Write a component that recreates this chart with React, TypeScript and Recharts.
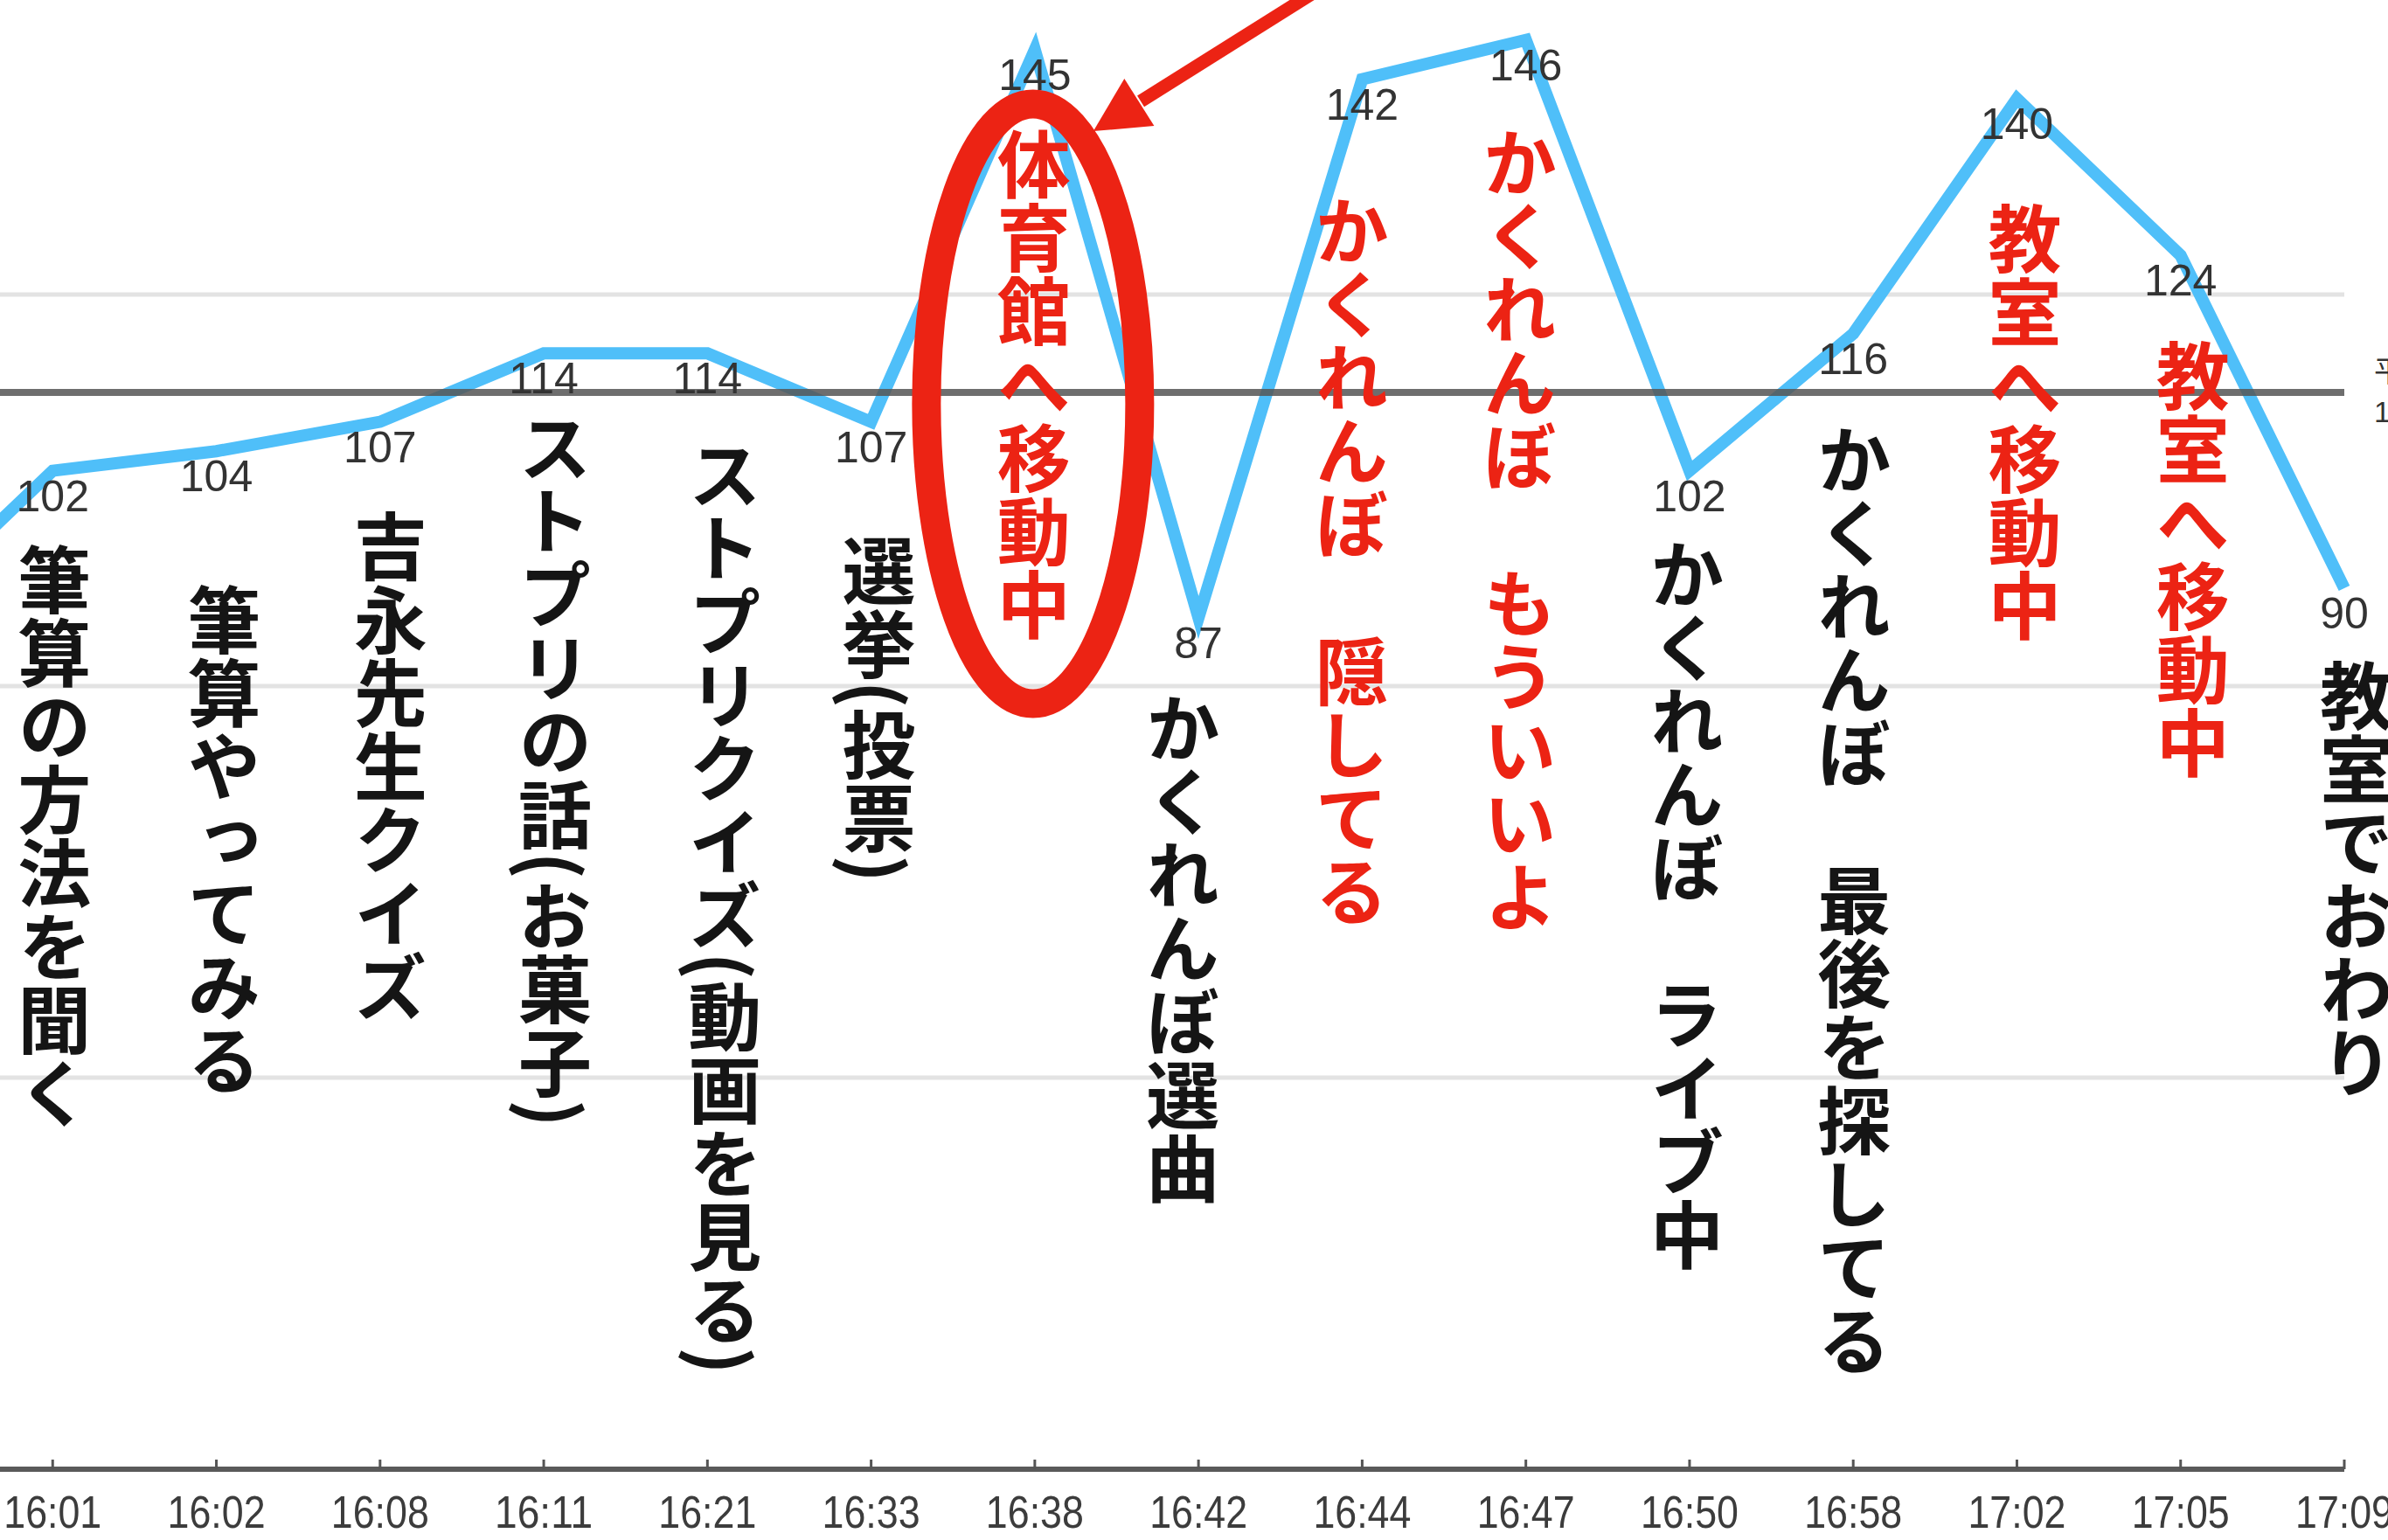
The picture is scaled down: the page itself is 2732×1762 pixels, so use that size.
import React from 'react';
import { LineChart, Line, XAxis, YAxis, CartesianGrid, ReferenceLine } from 'recharts';

// ---- data ----
const times = ['', '16:01', '16:02', '16:08', '16:11', '16:21', '16:33', '16:38', '16:42', '16:44', '16:47', '16:50', '16:58', '17:02', '17:05', '17:09'];
const counts = [86, 102, 104, 107, 114, 114, 107, 145, 87, 142, 146, 102, 116, 140, 124, 90];
const events = [
  '',
  '筆算の方法を聞く',
  '筆算やってみる',
  '吉永先生クイズ',
  'ストプリの話(お菓子)',
  'ストプリクイズ(動画を見る)',
  '選挙(投票)',
  '体育館へ移動中',
  'かくれんぼ選曲',
  'かくれんぼ　隠してる',
  'かくれんぼ　もういいよ',
  'かくれんぼ　ライブ中',
  'かくれんぼ　最後を探してる',
  '教室へ移動中',
  '教室へ移動中',
  '教室でおわり',
];
const highlightFlags = [false, false, false, false, false, false, false, true, false, true, true, false, false, true, true, false];
const circledTime = '16:38';
const yTicks = [0, 40, 80, 120, 160];
const referenceValue = 110;
const referenceLabel = ['平均', '110'];

// ---- layout (annotation text box offsets relative to each point, px) ----
const eventOffsetX = [0, 2, 9, 12, 13, 20, 9, -1, -18, -12, -7, -3, 1, 9, 14, 14];
const eventOffsetY = [0, 82, 151, 100, 66, 97, 128, 89, 84, 131, 98, 76, 102, 118, 96, 81];

const data = times.map((t, i) => ({
  time: t,
  count: counts[i],
  event: events[i],
  highlight: highlightFlags[i],
}));

const RED = '#EC2314';
const BLUE = '#4FBFF9';
const JP_FONT = "'Noto Sans CJK JP', 'Noto Sans CJK SC', sans-serif";
const NUM_FONT = "'Liberation Sans', Arial, 'DejaVu Sans', sans-serif";

const AxisTick = (props: any) => {
  const { x, y, payload } = props;
  const label = payload && payload.value ? String(payload.value) : '';
  return (
    <g>
      <line x1={x} x2={x} y1={y} y2={y - 11} stroke="#555" strokeWidth={3} />
      {label ? (
        <text
          x={x}
          y={y + 67}
          textAnchor="middle"
          fontSize={52}
          fontFamily={NUM_FONT}
          fill="#3c3c3c"
          textLength={112}
          lengthAdjust="spacingAndGlyphs"
        >
          {label}
        </text>
      ) : null}
    </g>
  );
};

const renderCircleAndArrow = (cx: number, cy: number) => {
  const tipX = cx + 67;
  const tipY = cy + 93;
  const tailX = cx + 320;
  const tailY = cy - 66;
  const dx = tailX - tipX;
  const dy = tailY - tipY;
  const len = Math.sqrt(dx * dx + dy * dy);
  const ux = dx / len;
  const uy = dy / len;
  const nx = -uy;
  const ny = ux;
  const headLen = 62;
  const halfW = 32;
  const bx = tipX + ux * headLen;
  const by = tipY + uy * headLen;
  const pts = `${tipX},${tipY} ${bx + nx * halfW},${by + ny * halfW} ${bx - nx * halfW},${by - ny * halfW}`;
  return (
    <g>
      <ellipse cx={cx - 2} cy={cy + 405} rx={122} ry={343} fill="none" stroke={RED} strokeWidth={33} />
      <line x1={tailX} y1={tailY} x2={bx + ux * 2} y2={by + uy * 2} stroke={RED} strokeWidth={15} />
      <polygon points={pts} fill={RED} />
    </g>
  );
};

const renderPoint = (props: any) => {
  const { cx, cy, index, payload } = props;
  const ev: string = payload ? payload.event : '';
  // the lead-in point lies outside the visible frame: no labels for it
  if (cx == null || cy == null || !ev) return <g key={`pt-${index}`} />;
  return (
    <g key={`pt-${index}`}>
      <text
        x={cx + eventOffsetX[index]}
        y={cy + eventOffsetY[index]}
        textAnchor="start"
        fontSize={84}
        fontWeight={700}
        fontFamily={JP_FONT}
        fill={payload.highlight ? RED : '#151515'}
        style={{ writingMode: 'vertical-rl' as any }}
      >
        {ev}
      </text>
      <text
        x={cx}
        y={cy + 46}
        textAnchor="middle"
        fontSize={50}
        fontFamily={NUM_FONT}
        fill="#333"
      >
        {payload.count}
      </text>
      {payload.time === circledTime ? renderCircleAndArrow(cx, cy) : null}
    </g>
  );
};

const renderRefLabel = (props: any) => {
  const vb = props.viewBox || {};
  const x = (vb.x || 0) + (vb.width || 0) + 34;
  const y = vb.y || 0;
  return (
    <g>
      <text x={x} y={y - 12} fontSize={34} fontFamily={JP_FONT} fill="#333">
        {referenceLabel[0]}
      </text>
      <text x={x} y={y + 34} fontSize={34} fontFamily={NUM_FONT} fill="#333">
        {referenceLabel[1]}
      </text>
    </g>
  );
};

export default function App() {
  return (
    <div
      style={{
        position: 'absolute',
        left: 0,
        top: 0,
        width: 2732,
        height: 1762,
        overflow: 'hidden',
        background: '#ffffff',
      }}
    >
      <div style={{ position: 'absolute', left: -126.6, top: -111 }}>
        <LineChart width={2929} height={1882} data={data} margin={{ top: 0, right: 120, bottom: 0, left: 0 }}>
          <CartesianGrid vertical={false} stroke="#e3e3e3" strokeWidth={5} />
          <XAxis
            dataKey="time"
            height={90}
            interval={0}
            padding={{ left: 0, right: 0 }}
            tickLine={false}
            tickSize={0}
            tickMargin={0}
            tick={<AxisTick />}
            axisLine={{ stroke: '#5a5a5a', strokeWidth: 6 }}
          />
          <YAxis hide domain={[0, 160]} ticks={yTicks} />
          <Line
            type="linear"
            dataKey="count"
            stroke={BLUE}
            strokeWidth={14}
            strokeLinejoin="miter"
            dot={renderPoint}
            activeDot={false}
            isAnimationActive={false}
          />
          <ReferenceLine
            y={referenceValue}
            stroke="#555"
            strokeOpacity={0.85}
            strokeWidth={8}
            label={renderRefLabel}
          />
        </LineChart>
      </div>
    </div>
  );
}
